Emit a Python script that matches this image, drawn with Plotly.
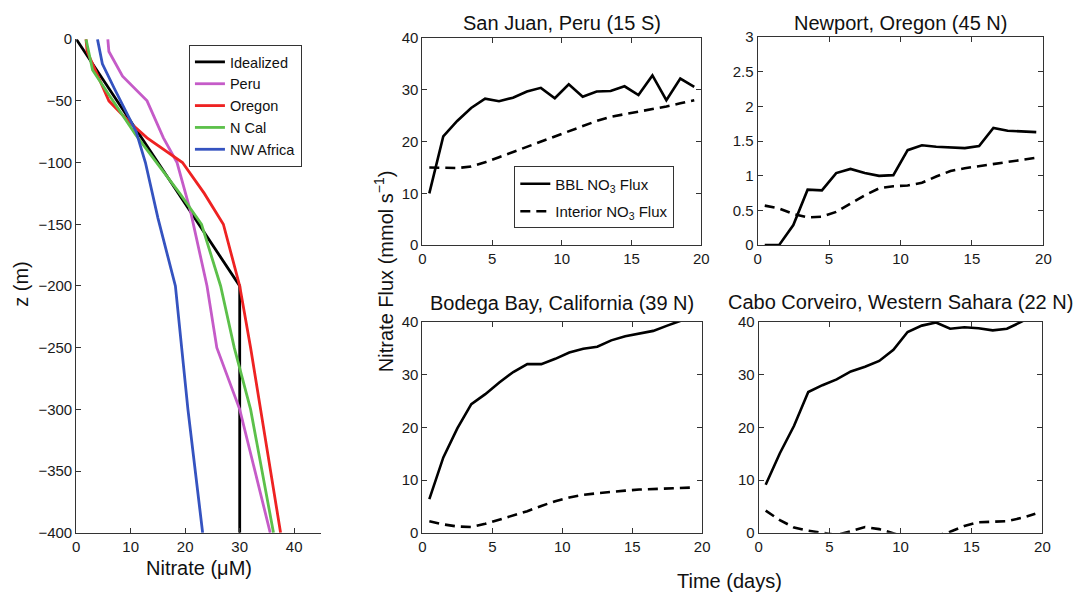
import plotly.graph_objects as go

# ---------------- data ----------------
# Left panel: nitrate profiles (Nitrate uM, depth m)
ideal_n = [0, 30, 30]
ideal_z = [0, -200, -400]
peru_n = [5.8, 6.0, 8.5, 13.0, 16.0, 18.5, 21.0, 24.0, 25.8, 30.0, 35.6]
peru_z = [0, -10, -30, -50, -80, -100, -140, -200, -250, -300, -400]
oregon_n = [1.8, 2.0, 4.0, 6.0, 9.7, 13.0, 19.5, 23.5, 27.0, 30.0, 32.0, 37.5]
oregon_z = [0, -10, -30, -50, -67, -80, -100, -125, -150, -200, -250, -400]
ncal_n = [1.8, 3.0, 6.0, 11.0, 19.0, 23.0, 26.5, 29.0, 32.0, 36.2]
ncal_z = [0, -25, -45, -78, -125, -150, -200, -250, -300, -400]
nwafr_n = [3.9, 4.8, 7.0, 9.0, 11.0, 12.7, 15.0, 18.2, 19.4, 20.5, 23.2]
nwafr_z = [0, -20, -40, -57, -75, -100, -145, -200, -250, -300, -400]

# Flux panels
days = [0.5, 1.5, 2.5, 3.5, 4.5, 5.5, 6.5, 7.5, 8.5, 9.5,
        10.5, 11.5, 12.5, 13.5, 14.5, 15.5, 16.5, 17.5, 18.5, 19.5]

sj_bbl = [10.0, 21.0, 24.0, 26.5, 28.3, 27.8, 28.5, 29.7, 30.4, 28.4,
          31.1, 28.7, 29.7, 29.8, 30.7, 29.0, 32.8, 28.0, 32.2, 30.6]
sj_int = [15.0, 14.9, 14.9, 15.2, 16.0, 17.0, 18.0, 19.0, 20.0, 21.0,
          22.0, 23.0, 24.0, 24.8, 25.3, 25.8, 26.2, 26.8, 27.4, 28.0]

np_bbl = [0.0, 0.0, 0.29, 0.80, 0.79, 1.04, 1.10, 1.04, 1.00, 1.01,
          1.37, 1.44, 1.42, 1.41, 1.40, 1.43, 1.69, 1.65, 1.64, 1.63]
np_int = [0.57, 0.53, 0.45, 0.40, 0.41, 0.48, 0.60, 0.72, 0.82, 0.85,
          0.86, 0.90, 0.99, 1.07, 1.11, 1.14, 1.17, 1.20, 1.23, 1.26]

bb_bbl = [6.4, 14.3, 19.8, 24.4, 26.3, 28.5, 30.5, 32.0, 32.0, 33.0,
          34.2, 34.9, 35.3, 36.5, 37.3, 37.8, 38.3, 39.3, 40.3, 41.2]
bb_int = [2.2, 1.6, 1.2, 1.1, 1.7, 2.5, 3.3, 4.1, 5.1, 6.0,
          6.7, 7.2, 7.5, 7.8, 8.0, 8.2, 8.3, 8.5, 8.6, 8.6]

cc_bbl = [9.1, 15.1, 20.3, 26.7, 28.0, 29.1, 30.6, 31.5, 32.6, 34.7,
          38.1, 39.3, 39.9, 38.7, 39.0, 38.8, 38.4, 38.7, 40.0, 41.5]
cc_int = [4.2, 2.4, 1.0, 0.4, 0.0, -0.4, 0.3, 1.1, 0.7, -0.1,
          -0.9, -1.2, -0.6, 0.2, 1.3, 2.0, 2.1, 2.2, 2.8, 3.6]

titles = ["San Juan, Peru (15 S)", "Newport, Oregon (45 N)",
          "Bodega Bay, California (39 N)", "Cabo Corveiro, Western Sahara (22 N)"]

# ---------------- figure ----------------
W, H = 1088, 603
FONT = "Liberation Sans, Arial, Helvetica, sans-serif"
AX = "#333333"

def px_x(a, b):
    return [a / W, b / W]

def px_y(top, bottom):
    return [1 - bottom / H, 1 - top / H]

fig = go.Figure()

prof = [("Idealized", ideal_n, ideal_z, "#000000"),
        ("Peru", peru_n, peru_z, "#C55BC8"),
        ("Oregon", oregon_n, oregon_z, "#EE2222"),
        ("N Cal", ncal_n, ncal_z, "#5CC04A"),
        ("NW Africa", nwafr_n, nwafr_z, "#3553C0")]
for name, n, z, c in prof:
    fig.add_trace(go.Scatter(x=n, y=z, mode="lines", name=name,
                             line=dict(color=c, width=2.8),
                             xaxis="x", yaxis="y", legend="legend"))

panels = [(sj_bbl, sj_int, "x2", "y2"), (np_bbl, np_int, "x3", "y3"),
          (bb_bbl, bb_int, "x4", "y4"), (cc_bbl, cc_int, "x5", "y5")]
for i, (bbl, intr, xa, ya) in enumerate(panels):
    show = (i == 0)
    fig.add_trace(go.Scatter(x=days, y=bbl, mode="lines",
                             name="BBL NO<sub>3</sub> Flux",
                             line=dict(color="black", width=2.6),
                             xaxis=xa, yaxis=ya, showlegend=show,
                             legend="legend2", legendgroup="bbl"))
    fig.add_trace(go.Scatter(x=days, y=intr, mode="lines",
                             name="Interior NO<sub>3</sub> Flux",
                             line=dict(color="black", width=2.6, dash="10px,6px"),
                             xaxis=xa, yaxis=ya, showlegend=show,
                             legend="legend2", legendgroup="int"))

tickfont = dict(family=FONT, size=15, color="#1a1a1a")
common = dict(showgrid=False, zeroline=False, showline=True, linecolor=AX,
              linewidth=1, ticks="inside", ticklen=5, tickcolor=AX,
              tickfont=tickfont)
boxed = dict(common, mirror="ticks")

layout = dict(
    width=W, height=H, margin=dict(l=0, r=0, t=0, b=0),
    paper_bgcolor="white", plot_bgcolor="white",
    font=dict(family=FONT, size=15, color="#1a1a1a"),
    xaxis=dict(common, domain=px_x(73, 321), range=[0, 45],
               tickvals=[0, 10, 20, 30, 40], anchor="y"),
    yaxis=dict(common, domain=px_y(31, 539), range=[-400, 0],
               dtick=50, anchor="x"),
    xaxis2=dict(boxed, domain=px_x(423, 705), range=[0, 20], dtick=5, anchor="y2"),
    yaxis2=dict(boxed, domain=px_y(30, 243), range=[0, 40], dtick=10, anchor="x2"),
    xaxis3=dict(boxed, domain=px_x(762, 1051), range=[0, 20], dtick=5, anchor="y3"),
    yaxis3=dict(boxed, domain=px_y(29, 243), range=[0, 3], dtick=0.5, anchor="x3"),
    xaxis4=dict(boxed, domain=px_x(423, 706), range=[0, 20], dtick=5, anchor="y4"),
    yaxis4=dict(boxed, domain=px_y(322, 539), range=[0, 40], dtick=10, anchor="x4"),
    xaxis5=dict(boxed, domain=px_x(763, 1050), range=[0, 20], dtick=5, anchor="y5"),
    yaxis5=dict(boxed, domain=px_y(322, 539), range=[0, 40], dtick=10, anchor="x5"),
    legend=dict(x=187 / W, y=1 - 37 / H, xanchor="left", yanchor="top",
                bordercolor="#333333", borderwidth=1, bgcolor="white",
                font=dict(family=FONT, size=14.5, color="#111111"),
                tracegroupgap=0),
    legend2=dict(x=516 / W, y=1 - 162 / H, xanchor="left", yanchor="top",
                 bordercolor="#333333", borderwidth=1, bgcolor="white",
                 font=dict(family=FONT, size=15, color="#111111"),
                 tracegroupgap=5),
    showlegend=True,
)
fig.update_layout(**layout)

ann = []
def label(text, xpx, ypx, size=20, angle=0):
    ann.append(dict(text=text, x=xpx / W, y=1 - ypx / H, xref="paper", yref="paper",
                    showarrow=False, textangle=angle, xanchor="center", yanchor="middle",
                    font=dict(family=FONT, size=size, color="#111111")))

label("z (m)", 17, 283, angle=-90)
label("Nitrate (\u03bcM)", 197, 575)
label("Nitrate Flux (mmol s<sup>\u22121</sup>)", 384, 270, size=20, angle=-90)
label("Time (days)", 734, 589)
label(titles[0], 564, 14)
label(titles[1], 906, 14)
label(titles[2], 564, 303)
label(titles[3], 906, 302)
fig.update_layout(annotations=ann)

fig.write_html("out.html")
